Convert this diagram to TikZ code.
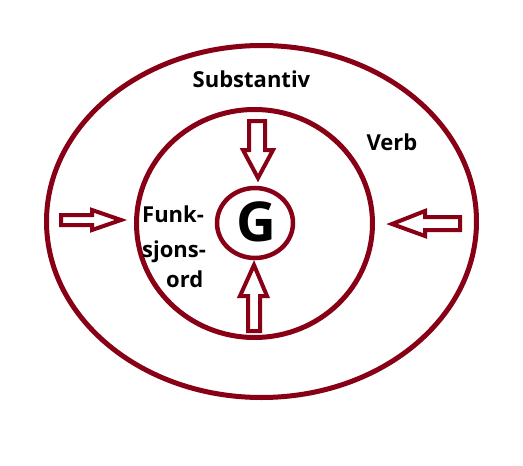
\documentclass[tikz,border=0pt]{standalone}
\usepackage{fontspec}
\setmainfont{Open Sans}
\usetikzlibrary{shapes.geometric}
\definecolor{dred}{RGB}{136,0,21}
\tikzset{
  ring/.style={draw=dred, line width=5pt, ellipse, inner sep=0pt},
  blockarrow/.style={draw=dred, line width=4pt, line join=miter, fill=white},
  lbl/.style={inner sep=0pt, font=\bfseries\fontsize{22}{24}\selectfont, text=black},
}
\begin{document}
\begin{tikzpicture}[x=1pt, y=-1pt]
\useasboundingbox[fill=white] (0,0) rectangle (523,466);
% rings
\node[ring, minimum width=430pt, minimum height=352pt] (outer) at (261.5,221.5) {};
\node[ring, minimum width=236pt, minimum height=228pt] (middle) at (254.5,223.5) {};
\node[ring, line width=4.5pt, minimum width=76pt, minimum height=70pt] (inner) at (255,223) {};
% G
\node[inner sep=0pt, anchor=base, font=\bfseries\fontsize{55}{60}\selectfont] (g) at (256,241) {G};
% labels
\node[lbl, anchor=base] (subst) at (251.5,87) {Substantiv};
\node[lbl, anchor=base] (verb) at (392,150) {Verb};
\node[lbl, anchor=base west] (f1) at (142,222) {Funk-};
\node[lbl, anchor=base west] (f2) at (142,257) {sjons-};
\node[lbl, anchor=base west] (f3) at (166,287) {ord};
% block arrows
% top, pointing down
\draw[blockarrow] (249,121) -- (265,121) -- (265,150) -- (273,150) -- (258,178) -- (243,150) -- (249,150) -- cycle;
% bottom, pointing up
\draw[blockarrow] (248,331) -- (260,331) -- (260,296) -- (267,296) -- (254,265) -- (240,296) -- (248,296) -- cycle;
% left, pointing right
\draw[blockarrow] (61,215) -- (92,215) -- (92,210) -- (121,220) -- (92,230) -- (92,225) -- (61,225) -- cycle;
% right, pointing left
\draw[blockarrow] (460,217) -- (425,217) -- (425,211) -- (392,224) -- (425,236) -- (425,230) -- (460,230) -- cycle;
\end{tikzpicture}
\end{document}
